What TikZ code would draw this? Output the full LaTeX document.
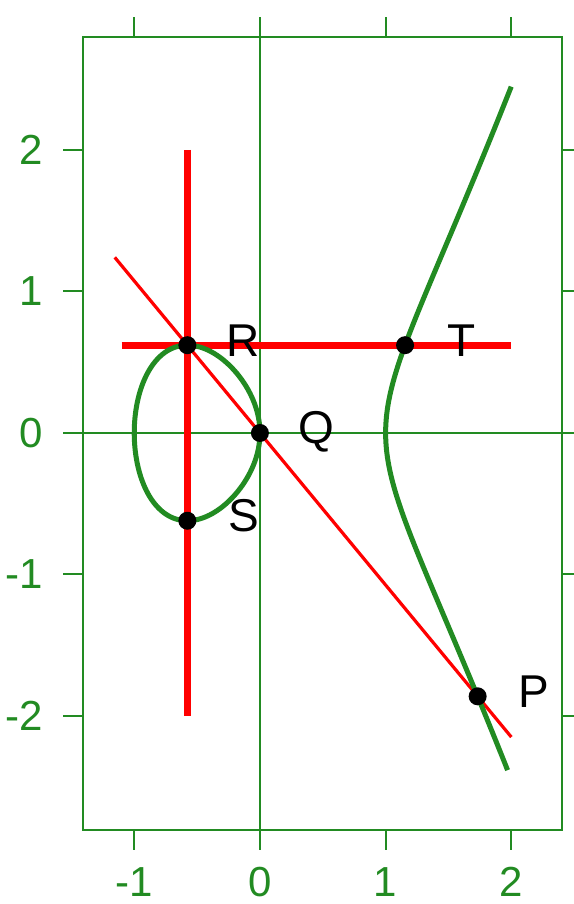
\documentclass[tikz,border=0pt]{standalone}
\usepackage{fontspec}
\setmainfont{Liberation Sans}
\definecolor{curvegreen}{RGB}{34,139,34}
\begin{document}
\begin{tikzpicture}[x=62.85pt, y=70.75pt,
    axisline/.style={curvegreen, line width=1pt},
    ticklabel/.style={curvegreen, inner sep=0pt, font=\fontsize{21}{21}\selectfont},
    ptlabel/.style={anchor=base, inner sep=0pt, xshift=28pt, yshift=-5.5pt, font=\fontsize{23}{23}\selectfont},
    thinred/.style={red, line width=1.6pt},
    thickred/.style={red, line width=3.5pt},
    curve/.style={curvegreen, line width=2.5pt}]
    \useasboundingbox (-2.068,-3.329) rectangle (2.498,3.060);
    % define point
    \coordinate (Q) at (0,0);
    \coordinate (R) at (-0.5774, 0.6204);
    \coordinate (S) at (-0.5774,-0.6204);
    \coordinate (T) at (1.1547, 0.6204);
    \coordinate (P) at (1.7321,-1.8612);
    % free ends of the red lines
    \coordinate (Vtop)   at (-0.5774, 2);
    \coordinate (Vbot)   at (-0.5774,-2);
    \coordinate (Hleft)  at (-1.1, 0.6204);
    \coordinate (Hright) at (2, 0.6204);
    \coordinate (Lstart) at (-1.155, 1.2412);
    \coordinate (Lend)   at (2,-2.1492);
    % frame and axes
    \draw[axisline] (-1.408,-2.806) rectangle (2.402,2.800);
    \draw[axisline, line width=0.85pt] (-1.408,0) -- (2.402,0);
    \draw[axisline, line width=0.85pt] (0,-2.806) -- (0,2.800);
    \foreach \x [count=\i] in {-1,0,1,2} {
        \draw[axisline] (\x,2.800) -- ++(0,10pt);
        \draw[axisline] (\x,-2.806) -- ++(0,-10pt);
        \node[ticklabel] (xlab\i) at (\x,-3.172) {\x};
    }
    \foreach \y [count=\i] in {-2,-1,0,1,2} {
        \draw[axisline] (-1.408,\y) -- ++(-10pt,0);
        \draw[axisline] (2.402,\y) -- ++(10pt,0);
        \node[ticklabel, anchor=east] (ylab\i) at (-1.726,\y) {\y};
    }
    % red lines
    \draw[thickred] (Vtop) -- (Vbot);
    \draw[thickred] (Hleft) -- (Hright);
    \draw[thinred] (Lstart) -- (Lend);
    % the curve
    \draw[curve, domain=0:360, samples=160] plot ({-0.5-0.5*cos(\x)}, {sin(\x)*sqrt(0.125*(3+cos(\x)))}) -- cycle;
    \draw[curve, domain=-0.985:1, samples=160] plot ({1+\x*\x}, {\x*sqrt((1+\x*\x)*(2+\x*\x))});
    % points
    \foreach \p in {R,Q,S,T,P}
        \fill (\p) circle (4.5pt);
    \node[ptlabel] (labR) at (R) {R};
    \node[ptlabel] (labQ) at (Q) {Q};
    \node[ptlabel] (labS) at (S) {S};
    \node[ptlabel] (labT) at (T) {T};
    \node[ptlabel] (labP) at (P) {P};
\end{tikzpicture}
\end{document}
